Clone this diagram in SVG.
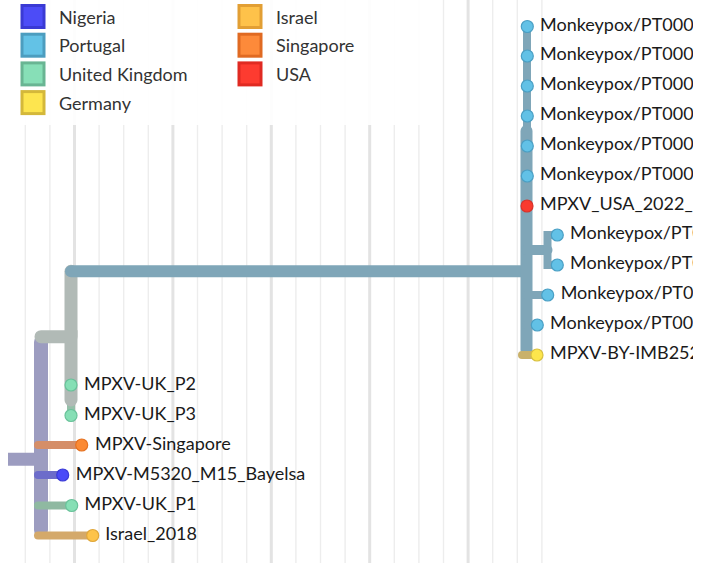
<svg xmlns="http://www.w3.org/2000/svg" width="715" height="563" viewBox="0 0 715 563">
<style>
.grid{stroke:#ededed;stroke-width:1.4}
.gridM{stroke:#e3e3e3;stroke-width:3}
.lg{font-family:Lato,"Liberation Sans",sans-serif;font-size:18px;fill:#333}
.lb{font-family:Lato,"Liberation Sans",sans-serif;font-size:18px;fill:#1a1a1a}
.br{fill:none;stroke-linecap:round}
.tip{stroke-width:1.2}
</style>
<defs>
<clipPath id="clipR"><rect x="0" y="0" width="693" height="563"/></clipPath>
</defs>
<rect width="715" height="563" fill="#ffffff"/>
<g id="grid">
<line class="grid" x1="25.3" y1="0" x2="25.3" y2="563"/>
<line class="grid" x1="49.9" y1="0" x2="49.9" y2="563"/>
<line class="gridM" x1="74.5" y1="0" x2="74.5" y2="563"/>
<line class="grid" x1="99.1" y1="0" x2="99.1" y2="563"/>
<line class="grid" x1="123.7" y1="0" x2="123.7" y2="563"/>
<line class="grid" x1="148.3" y1="0" x2="148.3" y2="563"/>
<line class="gridM" x1="172.9" y1="0" x2="172.9" y2="563"/>
<line class="grid" x1="197.5" y1="0" x2="197.5" y2="563"/>
<line class="grid" x1="222.1" y1="0" x2="222.1" y2="563"/>
<line class="grid" x1="246.7" y1="0" x2="246.7" y2="563"/>
<line class="gridM" x1="271.3" y1="0" x2="271.3" y2="563"/>
<line class="grid" x1="295.9" y1="0" x2="295.9" y2="563"/>
<line class="grid" x1="320.5" y1="0" x2="320.5" y2="563"/>
<line class="grid" x1="345.1" y1="0" x2="345.1" y2="563"/>
<line class="gridM" x1="369.7" y1="0" x2="369.7" y2="563"/>
<line class="grid" x1="394.3" y1="0" x2="394.3" y2="563"/>
<line class="grid" x1="418.9" y1="0" x2="418.9" y2="563"/>
<line class="grid" x1="443.5" y1="0" x2="443.5" y2="563"/>
<line class="gridM" x1="468.1" y1="0" x2="468.1" y2="563"/>
<line class="grid" x1="492.7" y1="0" x2="492.7" y2="563"/>
<line class="grid" x1="517.3" y1="0" x2="517.3" y2="563"/>
<line class="grid" x1="541.9" y1="0" x2="541.9" y2="563"/>
</g>
<rect x="0" y="0" width="430" height="125" fill="#ffffff" fill-opacity="0.9"/>
<g id="legend">
<g id="leg-nigeria"><rect x="22" y="5.5" width="22" height="22" fill="#4c4cf7" stroke="#3a3ad4" stroke-width="3"/><text class="lg" x="59" y="23.5">Nigeria</text></g>
<g id="leg-portugal"><rect x="22" y="34.2" width="22" height="22" fill="#63c2e6" stroke="#4c9dbf" stroke-width="3"/><text class="lg" x="59" y="52.2">Portugal</text></g>
<g id="leg-uk"><rect x="22" y="62.9" width="22" height="22" fill="#87dfb7" stroke="#69b593" stroke-width="3"/><text class="lg" x="59" y="80.9">United Kingdom</text></g>
<g id="leg-germany"><rect x="22" y="91.6" width="22" height="22" fill="#fde54f" stroke="#d4b83a" stroke-width="3"/><text class="lg" x="59" y="109.6">Germany</text></g>
<g id="leg-israel"><rect x="239" y="5.5" width="22" height="22" fill="#fec24a" stroke="#e29f34" stroke-width="3"/><text class="lg" x="276" y="23.5">Israel</text></g>
<g id="leg-singapore"><rect x="239" y="34.2" width="22" height="22" fill="#fd8a3a" stroke="#e06a22" stroke-width="3"/><text class="lg" x="276" y="52.2">Singapore</text></g>
<g id="leg-usa"><rect x="239" y="62.9" width="22" height="22" fill="#fd3b30" stroke="#e02a22" stroke-width="3"/><text class="lg" x="276" y="80.9">USA</text></g>
</g>
<g id="connectors">
<path d="M8,459.3 H41" stroke="#9c9cc0" stroke-width="13" fill="none"/>
<path class="br" d="M41,342 V530" stroke="#9c9cc0" stroke-width="14"/>
<path class="br" d="M71,400 V415.5" stroke="#95bfa9" stroke-width="8"/>
<path class="br" d="M41,336.7 H71 V400" stroke="#b1bab6" stroke-width="13"/>
<path class="br" d="M71,336.7 V271.3" stroke="#b1bab6" stroke-width="13"/>
<path class="br" d="M71,271.3 H526" stroke="#7fa6b8" stroke-width="12"/>
<path class="br" d="M38,445 H81" stroke="#d58e68" stroke-width="8"/>
<path class="br" d="M38,475 H62" stroke="#6c6cca" stroke-width="8"/>
<path class="br" d="M38,505.5 H71" stroke="#8fb9a1" stroke-width="8"/>
<path class="br" d="M38,535.5 H92" stroke="#d4a96a" stroke-width="8"/>
<path class="br" d="M527,26.5 V130" stroke="#7fa6b8" stroke-width="8"/>
<path class="br" d="M526.5,131 V350" stroke="#7fa6b8" stroke-width="12"/>
<path class="br" d="M526,250 H547.5" stroke="#7fa6b8" stroke-width="10"/>
<path class="br" d="M557,235 H547.5 V265 H557" stroke="#7fa6b8" stroke-width="8"/>
<path class="br" d="M526,295 H547" stroke="#7fa6b8" stroke-width="8"/>
<path class="br" d="M526,325 H537" stroke="#7fa6b8" stroke-width="8"/>
<path class="br" d="M522,355 H537" stroke="#c9b16b" stroke-width="8"/>
</g>
<g id="n-uk-p2"><circle class="tip" cx="71" cy="385" r="6" fill="#86dfb5" stroke="#69c29a"/><text class="lb" x="84" y="389.5">MPXV-UK_P2</text></g>
<g id="n-uk-p3"><circle class="tip" cx="71" cy="415.5" r="6" fill="#86dfb5" stroke="#69c29a"/><text class="lb" x="84" y="420">MPXV-UK_P3</text></g>
<g id="n-singapore"><circle class="tip" cx="81.7" cy="445" r="6" fill="#fb8a34" stroke="#e57222"/><text class="lb" x="95" y="449.5">MPXV-Singapore</text></g>
<g id="n-bayelsa"><circle class="tip" cx="62.7" cy="475" r="6" fill="#4a4af8" stroke="#3a3ad6"/><text class="lb" x="75.7" y="479.5">MPXV-M5320_M15_Bayelsa</text></g>
<g id="n-uk-p1"><circle class="tip" cx="71.7" cy="505.5" r="6" fill="#86dfb5" stroke="#69c29a"/><text class="lb" x="84.5" y="510">MPXV-UK_P1</text></g>
<g id="n-israel"><circle class="tip" cx="92.7" cy="535.5" r="6" fill="#fdc34a" stroke="#e0a73a"/><text class="lb" x="105.3" y="540">Israel_2018</text></g>
<g clip-path="url(#clipR)">
<g id="n-pt-1"><circle class="tip" cx="527.3" cy="26.5" r="6" fill="#62c1e6" stroke="#4a9fc4"/><text class="lb" x="540" y="30.5">Monkeypox/PT000</text></g>
<g id="n-pt-2"><circle class="tip" cx="527.3" cy="56" r="6" fill="#62c1e6" stroke="#4a9fc4"/><text class="lb" x="540" y="60">Monkeypox/PT000</text></g>
<g id="n-pt-3"><circle class="tip" cx="527.3" cy="86" r="6" fill="#62c1e6" stroke="#4a9fc4"/><text class="lb" x="540" y="90">Monkeypox/PT000</text></g>
<g id="n-pt-4"><circle class="tip" cx="527.3" cy="116" r="6" fill="#62c1e6" stroke="#4a9fc4"/><text class="lb" x="540" y="120">Monkeypox/PT000</text></g>
<g id="n-pt-5"><circle class="tip" cx="527.3" cy="146" r="6" fill="#62c1e6" stroke="#4a9fc4"/><text class="lb" x="540" y="150">Monkeypox/PT000</text></g>
<g id="n-pt-6"><circle class="tip" cx="527.3" cy="176" r="6" fill="#62c1e6" stroke="#4a9fc4"/><text class="lb" x="540" y="180">Monkeypox/PT000</text></g>
<g id="n-usa"><circle class="tip" cx="527" cy="206" r="6" fill="#f93a2e" stroke="#d8322a"/><text class="lb" x="540" y="210">MPXV_USA_2022_</text></g>
<g id="n-pt-7"><circle class="tip" cx="557.3" cy="235" r="6" fill="#62c1e6" stroke="#4a9fc4"/><text class="lb" x="570" y="239">Monkeypox/PT0</text></g>
<g id="n-pt-8"><circle class="tip" cx="557.3" cy="265" r="6" fill="#62c1e6" stroke="#4a9fc4"/><text class="lb" x="570" y="269">Monkeypox/PT0</text></g>
<g id="n-pt-9"><circle class="tip" cx="547.7" cy="295" r="6" fill="#62c1e6" stroke="#4a9fc4"/><text class="lb" x="560.7" y="299">Monkeypox/PT00</text></g>
<g id="n-pt-10"><circle class="tip" cx="537.3" cy="325" r="6" fill="#62c1e6" stroke="#4a9fc4"/><text class="lb" x="550" y="329">Monkeypox/PT00</text></g>
<g id="n-germany"><circle class="tip" cx="537" cy="355" r="6" fill="#fde64c" stroke="#d8c040"/><text class="lb" x="550" y="359">MPXV-BY-IMB252</text></g>
</g>
</svg>
